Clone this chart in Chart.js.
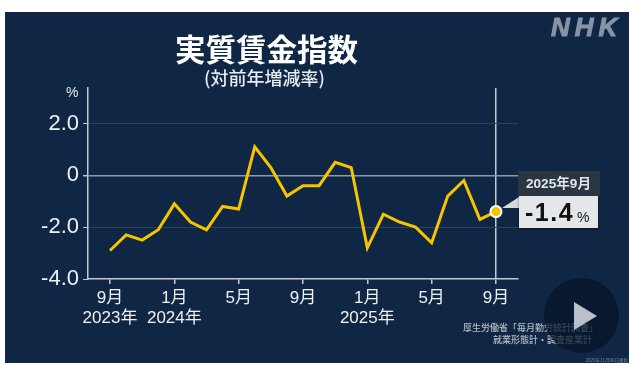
<!DOCTYPE html>
<html lang="ja">
<head>
<meta charset="utf-8">
<title>実質賃金指数</title>
<script src="https://cdn.jsdelivr.net/npm/chart.js@4"></script>
<style>
  html, body { margin: 0; padding: 0; background: #fff; overflow: hidden; }
  body { width: 633px; height: 369px; position: relative; font-family: "Noto Sans CJK JP", sans-serif; }
  #panel { position: absolute; left: 5px; top: 12px; width: 624px; height: 351px; background: #0f2744; }
  #wrap { position: absolute; left: 0; top: 0; width: 633px; height: 369px; }
  .txt { position: absolute; white-space: nowrap; line-height: 1; }
  #title { left: 175px; top: 33px; font-size: 30.5px; font-weight: 700; color: #fff; }
  #subtitle { left: 204px; top: 68px; font-size: 18px; font-weight: 500; color: #e8ebef; }
  #logo { left: 551px; top: 14px; font: italic 700 26px/1 "Liberation Sans", sans-serif; letter-spacing: 5px; color: #8794a6; -webkit-text-stroke: 1px #8794a6; }
  #percent { left: 66px; top: 85px; font: 14px/1 "Liberation Sans", sans-serif; color: #e8ebef; }
  #dateBox { position: absolute; left: 518px; top: 171px; width: 82px; height: 25px; background: #2a3642; }
  #dateTxt { left: 526px; top: 177px; font: 700 13.6px/1 "Liberation Sans", "Noto Sans CJK JP", sans-serif; color: #e4e7ea; }
  #valBox { position: absolute; left: 519px; top: 196px; width: 79px; height: 32px; background: #e4e7ea; box-shadow: 0 1px 2px rgba(0, 0, 0, .5); }
  #valTxt { left: 525px; top: 200px; font: 700 25px/1 "Liberation Sans", sans-serif; letter-spacing: 1.5px; color: #111; }
  #valPct { left: 577px; top: 210px; font: 14px/1 "Liberation Sans", sans-serif; color: #111; }
  #pointer { position: absolute; left: 502px; top: 197px; width: 17px; height: 11px; background: #d5d9dd; clip-path: polygon(100% 0, 100% 100%, 0 100%); }
  #play { position: absolute; left: 544px; top: 278px; width: 75px; height: 75px; border-radius: 50%; background: rgba(6, 20, 38, .72); }
  #playTri { position: absolute; left: 574px; top: 302px; width: 23px; height: 28px; background: #b9c0c9; clip-path: polygon(0 0, 100% 50%, 0 100%); }
  #src1 { right: 35px; top: 323px; font-size: 9px; font-weight: 500; color: #b4bcc7; }
  #src2 { right: 41px; top: 335px; font-size: 9px; font-weight: 500; color: #b4bcc7; }
  #stamp { right: 5px; top: 358px; font-size: 4.5px; color: #8390a0; }
</style>
</head>
<body>
<div id="panel"></div>
<div id="wrap"><canvas id="grafico" width="633" height="369"></canvas></div>
<div class="txt" id="title">実質賃金指数</div>
<div class="txt" id="subtitle">(対前年増減率)</div>
<div class="txt" id="logo">NHK</div>
<div class="txt" id="percent">%</div>
<div id="pointer"></div>
<div id="dateBox"></div>
<div class="txt" id="dateTxt">2025年9月</div>
<div id="valBox"></div>
<div class="txt" id="valTxt">-1.4</div>
<div class="txt" id="valPct">%</div>
<div class="txt" id="src1">厚生労働省「毎月勤労統計調査」</div>
<div class="txt" id="src2">就業形態計・調査産業計</div>
<div id="play"></div>
<div id="playTri"></div>
<div class="txt" id="stamp">2025年11月06日更新</div>
<script>
// 2023年9月 から 2025年9月 まで
const valores = [-2.9, -2.3, -2.5, -2.1, -1.1, -1.8, -2.1, -1.2, -1.3, 1.1, 0.3, -0.8,
  -0.4, -0.4, 0.5, 0.3, -2.8, -1.5, -1.8, -2.0, -2.6, -0.8, -0.2, -1.7, -1.4];
const meses = ["9月", "1月", "5月", "9月", "1月", "5月", "9月"];
const anos = ["2023年", "2024年", "", "", "2025年", "", ""];
const ticksY = [2, 0, -2, -4];
const rotulosY = ["2.0", "0", "-2.0", "-4.0"];

const corEixo = "#c3c9d1";
const corLinha = "#f7c400";

new Chart(document.getElementById("grafico"), {
  type: "line",
  data: {
    datasets: [{
      data: valores.map((v, i) => ({ x: i, y: v })),
      borderColor: corLinha,
      borderWidth: 3,
      tension: 0,
      borderJoinStyle: "miter",
      pointRadius: ctx => ctx.dataIndex === valores.length - 1 ? 5.5 : 0,
      pointBackgroundColor: corLinha,
      pointBorderColor: "#fff",
      pointBorderWidth: 2
    }]
  },
  options: {
    responsive: false,
    animation: false,
    layout: { padding: { left: 0, top: 88, right: 115, bottom: 0 } },
    plugins: { legend: { display: false }, tooltip: { enabled: false } },
    scales: {
      x: {
        type: "linear",
        min: -1.37,
        max: 25.37,
        afterBuildTicks: s => { s.ticks = meses.map((m, i) => ({ value: i * 4 })); },
        afterFit: s => { s.height = 90; },
        border: { color: corEixo, width: 1.5 },
        grid: {
          color: ctx => ctx.tick && ctx.tick.value === 24 ? corEixo : "transparent",
          tickColor: corEixo,
          tickLength: 5,
          lineWidth: 1.5
        },
        ticks: {
          maxRotation: 0,
          autoSkip: false,
          padding: 4,
          color: "#eef0f3",
          font: { family: '"Liberation Sans", "Noto Sans CJK JP", sans-serif', size: 17, lineHeight: 1.2 },
          callback: (v, i) => anos[i] ? [meses[i], anos[i]] : meses[i]
        }
      },
      y: {
        min: -4,
        max: 3.37,
        afterBuildTicks: s => { s.ticks = ticksY.map(v => ({ value: v })); },
        afterFit: s => { s.width = 88; },
        border: { color: corEixo, width: 1.5 },
        grid: {
          color: ctx => {
            const v = ctx.tick && ctx.tick.value;
            if (v === 0) return "#8f9aa9";
            return v === -4 ? "transparent" : "#2b4260";
          },
          tickColor: corEixo,
          tickLength: 5,
          lineWidth: ctx => ctx.tick && ctx.tick.value === 0 ? 1.5 : 1
        },
        ticks: {
          padding: 4,
          color: "#eef0f3",
          font: { family: '"Liberation Sans", sans-serif', size: 22 },
          callback: v => rotulosY[ticksY.indexOf(v)]
        }
      }
    }
  }
});
</script>
</body>
</html>
